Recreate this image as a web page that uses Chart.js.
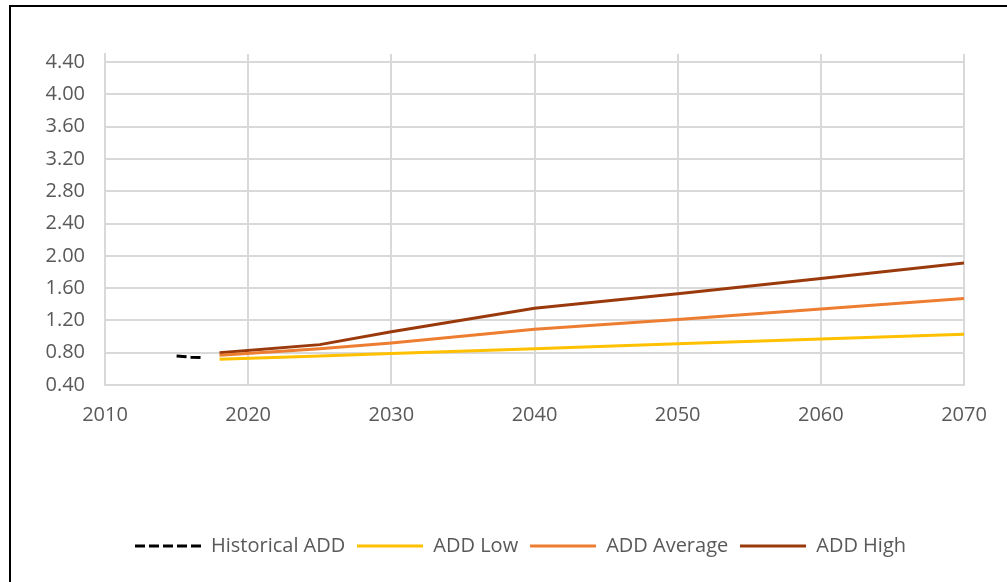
<!DOCTYPE html>
<html lang="en">
<head>
<meta charset="UTF-8">
<title>ADD projections</title>
<script src="https://cdn.jsdelivr.net/npm/chart.js"></script>
<style>
  html, body {
    margin: 0;
    padding: 0;
    background: #fff;
    overflow: hidden;
  }
  .cadre {
    position: absolute;
    left: 9px;
    top: 5px;
    width: 1200px;
    height: 800px;
    border-top: 2px solid #000;
    border-left: 2px solid #000;
  }
  .zone {
    position: absolute;
    left: 0;
    top: 0;
    width: 1007px;
    height: 582px;
  }
</style>
</head>
<body>
<div class="cadre"></div>
<div class="zone"><canvas id="graphique"></canvas></div>

<script>
// years and values
const histYears = [2015, 2016, 2016.7];
const histADD = [0.76, 0.745, 0.74];

const projYears = [2018, 2025, 2030, 2040, 2050, 2060, 2070];
const addLow = [0.72, 0.76, 0.79, 0.85, 0.91, 0.97, 1.03];
const addAverage = [0.77, 0.85, 0.92, 1.09, 1.21, 1.34, 1.47];
const addHigh = [0.80, 0.90, 1.06, 1.35, 1.53, 1.72, 1.91];

const xTicks = [2010, 2020, 2030, 2040, 2050, 2060, 2070];
const yTicks = [0.4, 0.8, 1.2, 1.6, 2.0, 2.4, 2.8, 3.2, 3.6, 4.0, 4.4];

function points(xs, ys) {
    return xs.map((x, i) => ({ x: x, y: ys[i] }));
}

const texte = '#595959';
const grille = '#d9d9d9';
const police = { family: '"Open Sans", sans-serif', size: 20 };

// petit dessin de ligne pour la légende (gère le pointillé)
function echantillon(couleur, dash) {
    const c = document.createElement('canvas');
    c.width = 66;
    c.height = 4;
    const g = c.getContext('2d');
    g.strokeStyle = couleur;
    g.lineWidth = 3;
    g.setLineDash(dash || []);
    g.beginPath();
    g.moveTo(0, 2);
    g.lineTo(66, 2);
    g.stroke();
    return c;
}

function serie(label, xs, ys, couleur, dash) {
    return {
        label: label,
        data: points(xs, ys),
        borderColor: couleur,
        backgroundColor: couleur,
        borderWidth: 3,
        borderDash: dash || [],
        pointRadius: 0,
        pointStyle: echantillon(couleur, dash),
        tension: 0,
        fill: false
    };
}

const ctx = document.getElementById('graphique').getContext('2d');
new Chart(ctx, {
    type: 'line',
    data: {
        datasets: [
            serie('Historical ADD', histYears, histADD, '#000000', [10, 4]),
            serie('ADD Low', projYears, addLow, '#ffc000'),
            serie('ADD Average', projYears, addAverage, '#ed7d31'),
            serie('ADD High', projYears, addHigh, '#9a3a0c')
        ]
    },
    options: {
        responsive: true,
        maintainAspectRatio: false,
        animation: false,
        layout: { padding: { left: 34, right: 0, top: 54, bottom: 16 } },
        plugins: {
            tooltip: { enabled: false },
            legend: {
                position: 'bottom',
                labels: {
                    usePointStyle: true,
                    pointStyleWidth: 66,
                    boxHeight: 20,
                    padding: 12,
                    color: texte,
                    font: police
                }
            }
        },
        scales: {
            x: {
                type: 'linear',
                min: xTicks[0],
                max: xTicks[xTicks.length - 1],
                afterBuildTicks: (axe) => { axe.ticks = xTicks.map(v => ({ value: v })); },
                afterFit: (axe) => { axe.height = 139; axe.paddingRight = 43; },
                grid: { color: grille, lineWidth: 2, drawTicks: false },
                border: { color: grille, width: 2 },
                ticks: {
                    color: texte,
                    font: police,
                    padding: 18,
                    maxRotation: 0,
                    callback: (v) => String(v)
                }
            },
            y: {
                min: 0.4,
                max: 4.5,
                afterBuildTicks: (axe) => { axe.ticks = yTicks.map(v => ({ value: v })); },
                afterFit: (axe) => { axe.width = 71; },
                grid: { color: grille, lineWidth: 2, drawTicks: false },
                border: { color: grille, width: 2 },
                ticks: {
                    color: texte,
                    font: police,
                    padding: 20,
                    callback: (v) => Number(v).toFixed(2)
                }
            }
        }
    }
});
</script>
</body>
</html>
